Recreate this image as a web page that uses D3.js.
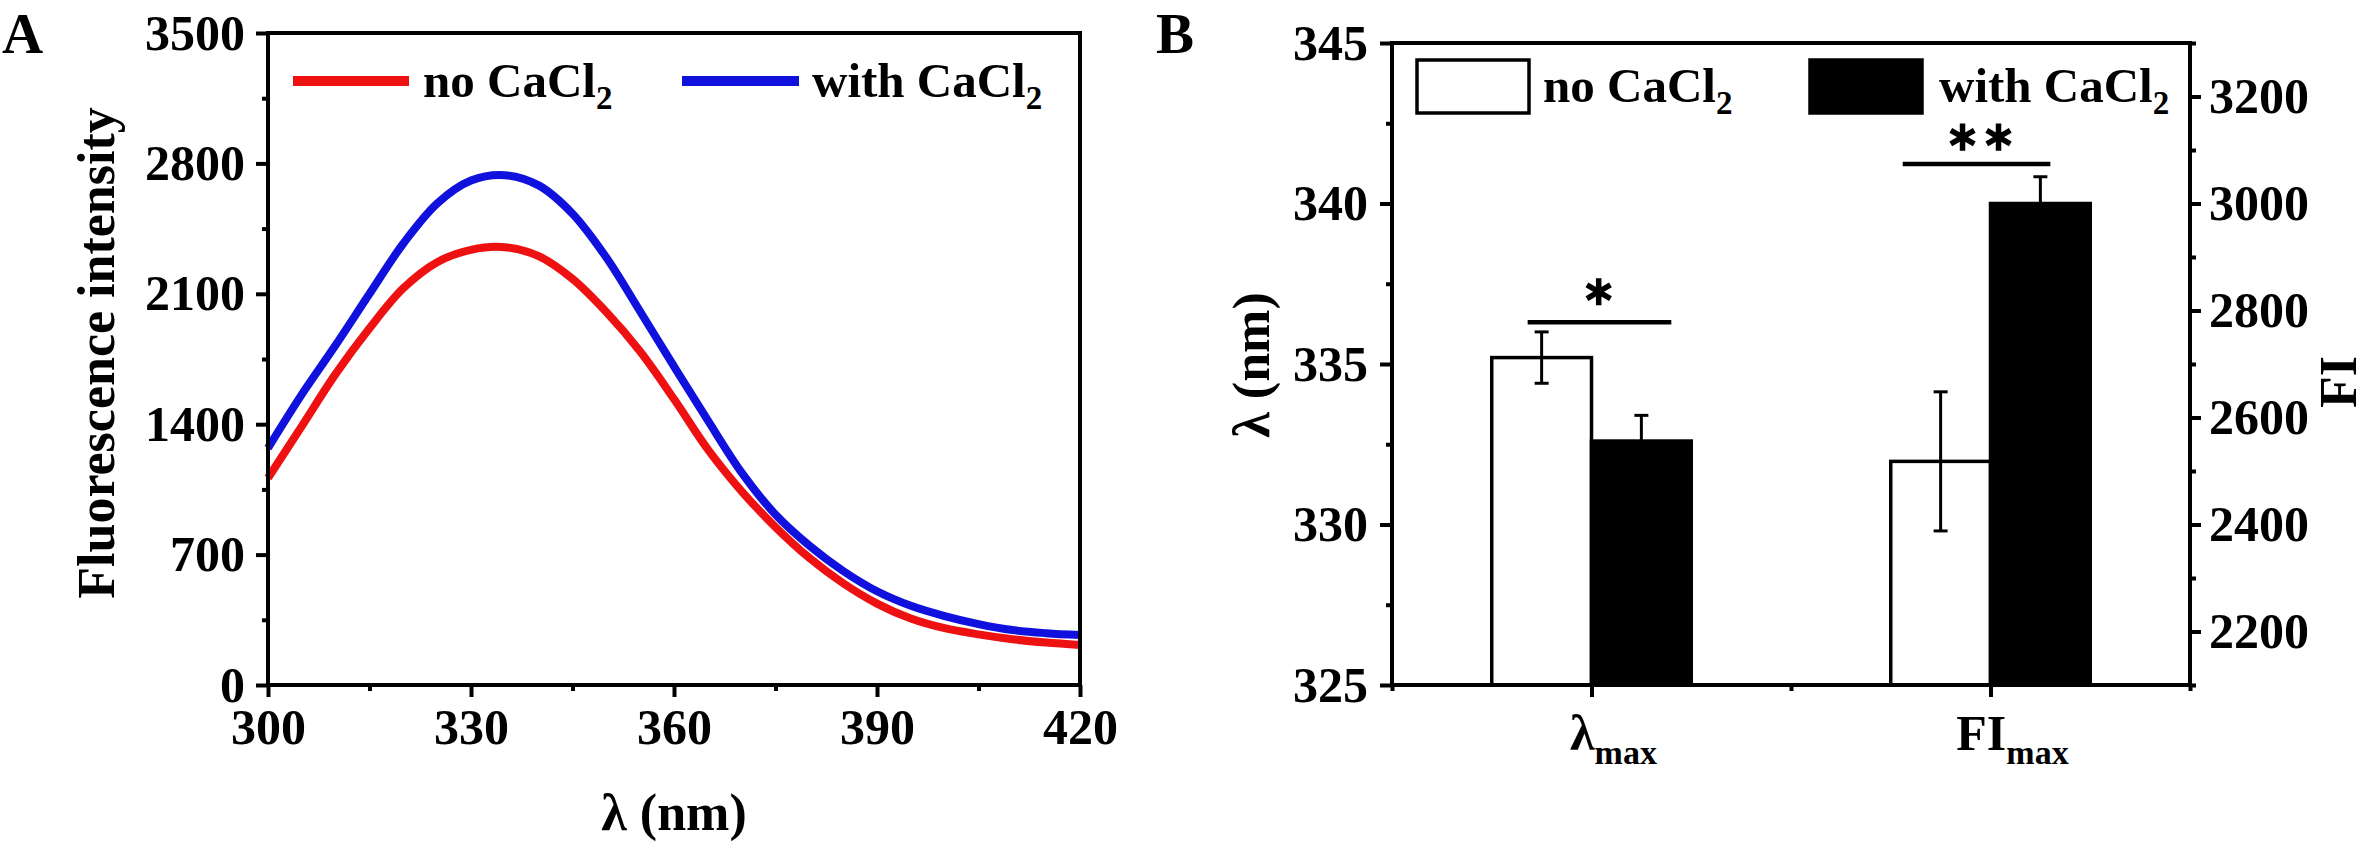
<!DOCTYPE html>
<html><head><meta charset="utf-8">
<script src="https://cdn.jsdelivr.net/npm/d3@7"></script>
<style>
html,body{margin:0;padding:0;background:#fff;}
svg{display:block;background:#fff;}
text{font-family:"Liberation Serif","Times New Roman",serif;font-weight:bold;fill:#000;}
</style></head><body>
<svg id="chart" width="2362" height="841"></svg>
<script>
// ---------- Panel A data ----------
const wavelengths = [300,305,310,315,320,325,330,335,340,345,350,355,360,365,370,375,380,385,390,395,400,405,410,415,420];
const noCaCl2   = [1111,1390,1670,1915,2130,2270,2336,2350,2302,2180,2002,1790,1535,1265,1040,848,682,546,437,357,305,272,246,228,215];
const withCaCl2 = [1272,1560,1825,2100,2370,2585,2708,2737,2682,2530,2295,2005,1710,1420,1140,915,748,612,503,425,370,327,295,278,268];
const aXTicks = [300,330,360,390,420];
const aXMinor = [315,345,375,405];
const aYTicks = [0,700,1400,2100,2800,3500];
const aYMinor = [350,1050,1750,2450,3150];
const seriesNames = ["no CaCl", "with CaCl"];
const seriesColors = ["#ee1111", "#1111dd"];

// ---------- Panel B data ----------
const barCatMain = ["λ", "FI"];
const barCatSub  = ["max", "max"];
const barCatPos  = [1, 2];
const barAxis    = ["left", "right"];
const noCaMeans  = [335.2, 2518];
const noCaErr    = [0.8, 130];
const withCaMeans= [332.6, 3000];
const withCaErr  = [0.8, 50];
const bLeftTicks = [325,330,335,340,345];
const bLeftMinor = [327.5,332.5,337.5,342.5];
const bRightTicks= [2200,2400,2600,2800,3000,3200];
const bRightMinor= [2100,2300,2500,2700,2900,3100,3300];
const bXMinor    = [0.5,1.5,2.5];
const sigMarks   = [
  {x1:0.84, x2:1.20, lineY:336.3, starX:1.018, starY:337.25, axis:"left",  n:1},
  {x1:1.78, x2:2.15, lineY:3074,  starX:1.975, starY:3124,   axis:"right", n:2}
];

const svg = d3.select("#chart");
const FS_TICK = 50, FS_TITLE = 52, FS_LEG = 49, FS_SUB = 33, AXW = 4;

function styleAxis(g, fs){
  g.select(".domain").remove();
  g.selectAll(".tick line").attr("stroke","#000").attr("stroke-width",AXW);
  g.selectAll(".tick text").attr("font-size",fs).attr("fill","#000")
    .attr("font-family",'"Liberation Serif","Times New Roman",serif').attr("font-weight","bold");
}
function subText(sel, main, sub, fs, fsSub, shift){
  sel.append("tspan").text(main).attr("font-size",fs);
  sel.append("tspan").text(sub).attr("font-size",fsSub).attr("dy",shift);
}

// ================= Panel A =================
const xA = d3.scaleLinear().domain([300,420]).range([268,1080]);
const yA = d3.scaleLinear().domain([0,3500]).range([685,33]);

const line = d3.line().x((d,i)=>xA(wavelengths[i])).y(d=>yA(d)).curve(d3.curveCatmullRom.alpha(0.5));
[noCaCl2, withCaCl2].forEach((s,k)=>{
  svg.append("path").datum(s).attr("d",line).attr("fill","none")
    .attr("stroke",seriesColors[k]).attr("stroke-width",8);
});

svg.append("rect").attr("x",xA(300)).attr("y",yA(3500)).attr("width",xA(420)-xA(300)).attr("height",yA(0)-yA(3500))
  .attr("fill","none").attr("stroke","#000").attr("stroke-width",AXW);

styleAxis(svg.append("g").attr("transform",`translate(${xA(300)},0)`)
  .call(d3.axisLeft(yA).tickValues(aYTicks).tickSize(12).tickPadding(11).tickFormat(d3.format("d"))), FS_TICK);
styleAxis(svg.append("g").attr("transform",`translate(${xA(300)},0)`)
  .call(d3.axisLeft(yA).tickValues(aYMinor).tickSize(6).tickFormat("")), FS_TICK);
styleAxis(svg.append("g").attr("transform",`translate(0,${yA(0)})`)
  .call(d3.axisBottom(xA).tickValues(aXTicks).tickSize(12).tickPadding(11).tickFormat(d3.format("d"))), FS_TICK);
styleAxis(svg.append("g").attr("transform",`translate(0,${yA(0)})`)
  .call(d3.axisBottom(xA).tickValues(aXMinor).tickSize(6).tickFormat("")), FS_TICK);

svg.append("text").attr("transform","translate(114,353) rotate(-90)").attr("text-anchor","middle")
  .attr("font-size",FS_TITLE).text("Fluorescence intensity");
svg.append("text").attr("x",(xA(300)+xA(420))/2).attr("y",830).attr("text-anchor","middle")
  .attr("font-size",FS_TITLE).text("λ (nm)");
svg.append("text").attr("x",2).attr("y",53).attr("font-size",57).text("A");

// legend A
const legA = [{x1:293,x2:409,tx:423},{x1:682,x2:799,tx:812}];
legA.forEach((L,k)=>{
  svg.append("line").attr("x1",L.x1).attr("x2",L.x2).attr("y1",81).attr("y2",81)
    .attr("stroke",seriesColors[k]).attr("stroke-width",10);
  const t = svg.append("text").attr("x",L.tx).attr("y",97);
  subText(t, seriesNames[k], "2", FS_LEG, FS_SUB, 12);
});

// ================= Panel B =================
const xB = d3.scaleLinear().domain([0.5,2.5]).range([1392,2190]);
const yBL = d3.scaleLinear().domain([325,345]).range([685,43]);
const yBR = d3.scaleLinear().domain([2100,3300]).range([685,43]);
const yFor = a => a === "left" ? yBL : yBR;
const halfW = 0.25;

barCatPos.forEach((c,i)=>{
  const y = yFor(barAxis[i]);
  const base = y.range()[0];
  svg.append("rect").attr("x",xB(c-halfW)).attr("width",xB(c)-xB(c-halfW))
    .attr("y",y(noCaMeans[i])).attr("height",base-y(noCaMeans[i]))
    .attr("fill","#fff").attr("stroke","#000").attr("stroke-width",3.5);
  svg.append("rect").attr("x",xB(c)).attr("width",xB(c+halfW)-xB(c))
    .attr("y",y(withCaMeans[i])).attr("height",base-y(withCaMeans[i]))
    .attr("fill","#000").attr("stroke","#000").attr("stroke-width",3.5);
  [[c-halfW/2, noCaMeans[i], noCaErr[i]],[c+halfW/2, withCaMeans[i], withCaErr[i]]].forEach(([cx,m,e])=>{
    const px = xB(cx);
    svg.append("line").attr("x1",px).attr("x2",px).attr("y1",y(m+e)).attr("y2",y(m-e))
      .attr("stroke","#000").attr("stroke-width",3);
    [m+e,m-e].forEach(v=>svg.append("line").attr("x1",px-7).attr("x2",px+7).attr("y1",y(v)).attr("y2",y(v))
      .attr("stroke","#000").attr("stroke-width",3));
  });
});

svg.append("rect").attr("x",xB(0.5)).attr("y",yBL(345)).attr("width",xB(2.5)-xB(0.5)).attr("height",yBL(325)-yBL(345))
  .attr("fill","none").attr("stroke","#000").attr("stroke-width",AXW);

styleAxis(svg.append("g").attr("transform",`translate(${xB(0.5)},0)`)
  .call(d3.axisLeft(yBL).tickValues(bLeftTicks).tickSize(12).tickPadding(12).tickFormat(d3.format("d"))), FS_TICK);
styleAxis(svg.append("g").attr("transform",`translate(${xB(0.5)},0)`)
  .call(d3.axisLeft(yBL).tickValues(bLeftMinor).tickSize(6).tickFormat("")), FS_TICK);
styleAxis(svg.append("g").attr("transform",`translate(${xB(2.5)},0)`)
  .call(d3.axisRight(yBR).tickValues(bRightTicks).tickSize(11).tickPadding(8).tickFormat(d3.format("d"))), FS_TICK);
styleAxis(svg.append("g").attr("transform",`translate(${xB(2.5)},0)`)
  .call(d3.axisRight(yBR).tickValues(bRightMinor).tickSize(6).tickFormat("")), FS_TICK);
const gbx = svg.append("g").attr("transform",`translate(0,${yBL(325)})`)
  .call(d3.axisBottom(xB).tickValues(barCatPos).tickSize(12).tickFormat(""));
styleAxis(gbx, FS_TICK);
styleAxis(svg.append("g").attr("transform",`translate(0,${yBL(325)})`)
  .call(d3.axisBottom(xB).tickValues(bXMinor).tickSize(6).tickFormat("")), FS_TICK);
barCatPos.forEach((c,i)=>{
  const t = svg.append("text").attr("x",xB(c)+22).attr("y",750).attr("text-anchor","middle");
  subText(t, barCatMain[i], barCatSub[i], FS_TICK, 34, 14);
});

// significance marks
const star = d3.symbol().type(d3.symbolAsterisk).size(520);
sigMarks.forEach(s=>{
  const y = yFor(s.axis);
  svg.append("line").attr("x1",xB(s.x1)).attr("x2",xB(s.x2)).attr("y1",y(s.lineY)).attr("y2",y(s.lineY))
    .attr("stroke","#000").attr("stroke-width",4.5);
  for(let j=0;j<s.n;j++){
    const cx = xB(s.starX) + (j-(s.n-1)/2)*36;
    svg.append("path").attr("d",star).attr("transform",`translate(${cx},${y(s.starY)})`)
      .attr("fill","none").attr("stroke","#000").attr("stroke-width",5.5);
  }
});

// titles B
svg.append("text").attr("transform","translate(1269,365) rotate(-90)").attr("text-anchor","middle")
  .attr("font-size",FS_TITLE).text("λ (nm)");
svg.append("text").attr("transform","translate(2356,382) rotate(-90)").attr("text-anchor","middle")
  .attr("font-size",FS_TITLE).text("FI");
svg.append("text").attr("x",1156).attr("y",53).attr("font-size",57).text("B");

// legend B
const legB = [{x:1417,tx:1543,fill:"#fff"},{x:1810,tx:1939,fill:"#000"}];
legB.forEach((L,k)=>{
  svg.append("rect").attr("x",L.x).attr("y",60).attr("width",112).attr("height",53)
    .attr("fill",L.fill).attr("stroke","#000").attr("stroke-width",3.5);
  const t = svg.append("text").attr("x",L.tx).attr("y",102);
  subText(t, seriesNames[k], "2", FS_LEG, FS_SUB, 12);
});
</script>
</body></html>
